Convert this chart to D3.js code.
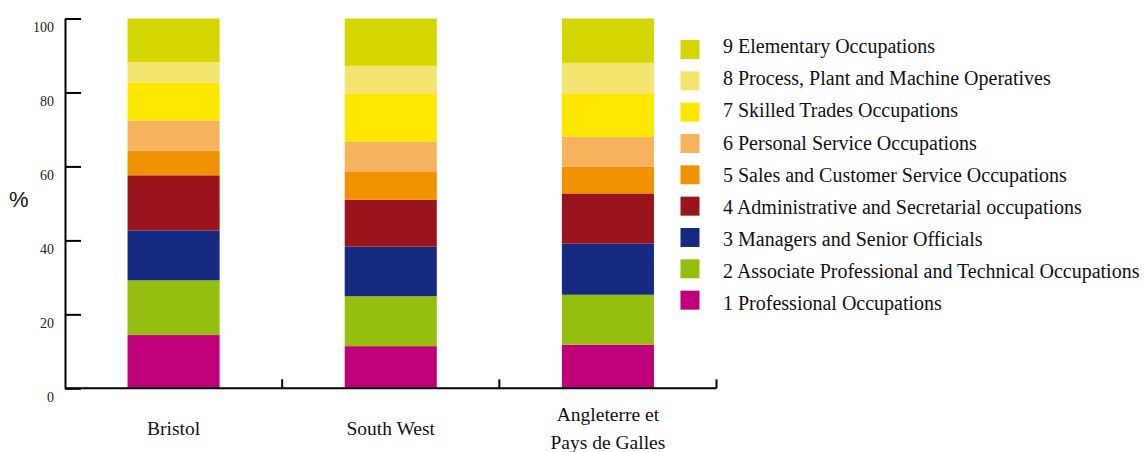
<!DOCTYPE html>
<html>
<head>
<meta charset="utf-8">
<script src="https://cdn.jsdelivr.net/npm/d3@7"></script>
<style>
  html, body { margin: 0; padding: 0; background: #ffffff; }
  svg { display: block; }
</style>
</head>
<body>
<svg id="chart" width="1144" height="452"></svg>
<script>
// Regions shown as stacked columns
const regions = ["Bristol", "South West", "Angleterre et\nPays de Galles"];

// Occupation groups, bottom of the stack first
const occupations = [
  "1 Professional Occupations",
  "2 Associate Professional and Technical Occupations",
  "3 Managers and Senior Officials",
  "4 Administrative and Secretarial occupations",
  "5 Sales and Customer Service Occupations",
  "6 Personal Service Occupations",
  "7 Skilled Trades Occupations",
  "8 Process, Plant and Machine Operatives",
  "9 Elementary Occupations"
];

// Share of employment (%) per occupation group, one array per region
const bristol      = [14.4, 14.8, 13.5, 14.9, 6.6, 8.2, 10.2, 5.6, 11.8];
const southWest    = [11.4, 13.5, 13.4, 12.7, 7.5, 8.2, 12.9, 7.6, 12.8];
const englandWales = [11.8, 13.5, 13.8, 13.6, 7.3, 8.0, 11.6, 8.4, 12.0];

const yTicks = [0, 20, 40, 60, 80, 100];

const colours = [
  "#bf007a", "#95be0e", "#162a82", "#9a141c", "#f09100",
  "#f6b25c", "#ffe800", "#f3e56f", "#d4d600"
];

const seriesByRegion = [bristol, southWest, englandWales];
const rows = regions.map((r, i) => {
  const row = { region: r };
  occupations.forEach((o, j) => { row[o] = seriesByRegion[i][j]; });
  return row;
});

const svg = d3.select("#chart");
const serif = "'Liberation Serif', 'Times New Roman', serif";

const plotLeft = 65, plotRight = 716.5, plotTop = 18.5, plotBottom = 388.3;

const x = d3.scaleBand().domain(regions).range([plotLeft, plotRight]).padding(0);
const y = d3.scaleLinear().domain([0, 100]).range([plotBottom, plotTop]);
const colour = d3.scaleOrdinal().domain(occupations).range(colours);

const layers = d3.stack().keys(occupations)(rows);

const barW = x.bandwidth() * 0.424;

// Stacked bars
svg.append("g")
  .selectAll("g")
  .data(layers)
  .join("g")
    .attr("fill", d => colour(d.key))
  .selectAll("rect")
  .data(d => d)
  .join("rect")
    .attr("x", d => x(d.data.region) + (x.bandwidth() - barW) / 2)
    .attr("width", barW)
    .attr("y", d => y(d[1]))
    .attr("height", d => y(d[0]) - y(d[1]));

// Y axis: inward ticks, labels sitting just below each tick
const yAxis = d3.axisLeft(y)
  .tickValues(yTicks)
  .tickSizeInner(-16)
  .tickSizeOuter(0)
  .tickPadding(11);

const yg = svg.append("g")
  .attr("transform", `translate(${plotLeft},0)`)
  .call(yAxis);
yg.select(".domain").attr("stroke", "#000").attr("stroke-width", 2);
yg.selectAll(".tick line").attr("stroke", "#000").attr("stroke-width", 2);
yg.selectAll(".tick text")
  .attr("font-family", serif)
  .attr("font-size", 14)
  .attr("fill", "#222")
  .attr("dy", 13);

// X axis baseline with short upward separators between regions
const xg = svg.append("g");
xg.append("line")
  .attr("x1", plotLeft).attr("x2", plotRight)
  .attr("y1", plotBottom).attr("y2", plotBottom)
  .attr("stroke", "#000").attr("stroke-width", 2);
xg.selectAll("line.sep")
  .data(regions)
  .join("line")
    .attr("class", "sep")
    .attr("x1", d => x(d) + x.bandwidth())
    .attr("x2", d => x(d) + x.bandwidth())
    .attr("y1", plotBottom)
    .attr("y2", plotBottom - 9)
    .attr("stroke", "#000").attr("stroke-width", 2);

// Region labels (multi-line labels centred on the same middle line)
const lineGap = 28, labelMid = 435;
xg.selectAll("text.region")
  .data(regions)
  .join("text")
    .attr("class", "region")
    .attr("text-anchor", "middle")
    .attr("font-family", serif)
    .attr("font-size", 19.5)
    .attr("fill", "#111")
    .each(function (d) {
      const lines = d.split("\n");
      const cx = x(d) + x.bandwidth() / 2;
      const y0 = labelMid - (lines.length - 1) * lineGap / 2;
      d3.select(this).selectAll("tspan")
        .data(lines)
        .join("tspan")
          .attr("x", cx)
          .attr("y", (l, i) => y0 + i * lineGap)
          .text(l => l);
    });

// Y axis title
svg.append("text")
  .attr("x", 9)
  .attr("y", 207)
  .attr("font-family", "'Liberation Sans', Arial, sans-serif")
  .attr("font-size", 22)
  .attr("fill", "#111")
  .text("%");

// Legend, top group first
const legendItems = occupations.slice().reverse();
const legend = svg.append("g");
legend.selectAll("rect")
  .data(legendItems)
  .join("rect")
    .attr("x", 680.5)
    .attr("y", (d, i) => 40 + i * 31.33)
    .attr("width", 19)
    .attr("height", 19)
    .attr("fill", d => colour(d));
legend.selectAll("text")
  .data(legendItems)
  .join("text")
    .attr("x", 723)
    .attr("y", (d, i) => 53.3 + i * 32.08)
    .attr("font-family", serif)
    .attr("font-size", 20)
    .attr("fill", "#111")
    .text(d => d);
</script>
</body>
</html>
